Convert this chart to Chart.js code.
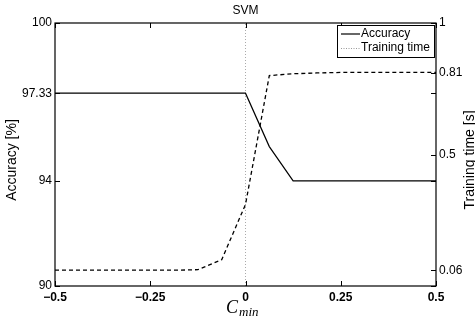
<!DOCTYPE html>
<html lang="en">
<head>
    <meta charset="UTF-8">
    <title>SVM</title>
    <script src="https://cdn.jsdelivr.net/npm/chart.js"></script>
    <style>
        html, body { margin: 0; padding: 0; background: #fff; }
        #wrap { width: 475px; height: 327px; }
    </style>
</head>
<body>
    <div id="wrap"><canvas id="svmChart" width="475" height="327"></canvas></div>
    <script>
        // values
        const cValues = [-0.5, -0.4375, -0.375, -0.3125, -0.25, -0.1875, -0.125, -0.0625, 0,
                         0.0625, 0.125, 0.1875, 0.25, 0.3125, 0.375, 0.4375, 0.5];
        const accuracy = [97.33, 97.33, 97.33, 97.33, 97.33, 97.33, 97.33, 97.33, 97.33,
                          95.3, 94, 94, 94, 94, 94, 94, 94];
        const trainingTime = [0.06, 0.06, 0.06, 0.06, 0.06, 0.06, 0.062, 0.1, 0.31,
                              0.8, 0.807, 0.81, 0.812, 0.812, 0.812, 0.812, 0.812];
        const xTicks = [-0.5, -0.25, 0, 0.25, 0.5];
        const accTicks = [90, 94, 97.33, 100];
        const timeTicks = [0.06, 0.5, 0.81, 1];

        const FONT = "'Liberation Sans', Arial, sans-serif";

        function toPoints(xs, ys) {
            return xs.map((x, i) => ({ x: x, y: ys[i] }));
        }

        function fmt(v) {
            return String(v).replace('-', '\u2212');
        }

        // MATLAB-like frame: box, inward ticks, titles, legend
        const framePlugin = {
            id: 'frame',
            afterDraw(chart) {
                const ctx = chart.ctx;
                const a = chart.chartArea;
                const sx = chart.scales.x, sy = chart.scales.y, sy2 = chart.scales.y2;
                const tl = 5;
                ctx.save();
                ctx.strokeStyle = '#000';
                ctx.lineWidth = 1.2;
                ctx.strokeRect(a.left, a.top, a.right - a.left, a.bottom - a.top);

                ctx.lineWidth = 1;
                ctx.beginPath();
                xTicks.forEach(v => {
                    const px = Math.round(sx.getPixelForValue(v)) + 0.5;
                    ctx.moveTo(px, a.bottom); ctx.lineTo(px, a.bottom - tl);
                    ctx.moveTo(px, a.top); ctx.lineTo(px, a.top + tl);
                });
                accTicks.forEach(v => {
                    const py = Math.round(sy.getPixelForValue(v)) + 0.5;
                    ctx.moveTo(a.left, py); ctx.lineTo(a.left + tl, py);
                    ctx.moveTo(a.right, py); ctx.lineTo(a.right - tl, py);
                });
                timeTicks.forEach(v => {
                    const py = Math.round(sy2.getPixelForValue(v)) + 0.5;
                    ctx.moveTo(a.right, py); ctx.lineTo(a.right - tl, py);
                });
                ctx.stroke();

                // title
                ctx.fillStyle = '#000';
                ctx.font = '12px ' + FONT;
                ctx.textAlign = 'center';
                ctx.textBaseline = 'middle';
                ctx.fillText('SVM', (a.left + a.right) / 2, 11);

                // y axis titles
                ctx.font = '14px ' + FONT;
                ctx.save();
                ctx.translate(12.5, 160);
                ctx.rotate(-Math.PI / 2);
                ctx.fillText('Accuracy [%]', 0, 0);
                ctx.restore();
                ctx.save();
                ctx.translate(470, 160);
                ctx.rotate(-Math.PI / 2);
                ctx.fillText('Training time [s]', 0, 0);
                ctx.restore();

                // x axis title C_min
                ctx.textAlign = 'left';
                ctx.textBaseline = 'alphabetic';
                ctx.font = 'italic 18px "Liberation Serif", serif';
                ctx.fillText('C', 226, 313);
                const cw = ctx.measureText('C').width;
                ctx.font = 'italic 13px "Liberation Serif", serif';
                ctx.fillText('min', 226 + cw + 1, 316);

                // legend
                const lx = 337, ly = 25, lw = 97, lh = 32;
                ctx.fillStyle = '#fff';
                ctx.fillRect(lx, ly, lw, lh);
                ctx.strokeStyle = '#000';
                ctx.lineWidth = 1;
                ctx.strokeRect(lx + 0.5, ly + 0.5, lw, lh);
                ctx.beginPath();
                ctx.lineWidth = 1.2;
                ctx.moveTo(341, 34); ctx.lineTo(360, 34);
                ctx.stroke();
                ctx.beginPath();
                ctx.strokeStyle = '#999';
                ctx.setLineDash([1, 1.5]);
                ctx.moveTo(341, 48.5); ctx.lineTo(360, 48.5);
                ctx.stroke();
                ctx.setLineDash([]);
                ctx.fillStyle = '#000';
                ctx.font = '12px ' + FONT;
                ctx.textBaseline = 'middle';
                ctx.fillText('Accuracy', 361, 34);
                ctx.fillText('Training time', 361, 48);
                ctx.restore();
            }
        };

        const ctx = document.getElementById('svmChart').getContext('2d');
        new Chart(ctx, {
            type: 'line',
            data: {
                datasets: [{
                    label: 'Accuracy',
                    data: toPoints(cValues, accuracy),
                    yAxisID: 'y',
                    borderColor: '#000',
                    borderWidth: 1.2,
                    pointRadius: 0,
                    tension: 0
                }, {
                    label: 'Training time',
                    data: toPoints(cValues, trainingTime),
                    yAxisID: 'y2',
                    borderColor: '#000',
                    borderWidth: 1.3,
                    borderDash: [4, 3],
                    pointRadius: 0,
                    tension: 0
                }, {
                    label: 'zero',
                    data: [{ x: 0, y: 90 }, { x: 0, y: 100 }],
                    yAxisID: 'y',
                    borderColor: '#aaa',
                    borderWidth: 1,
                    borderDash: [1, 2],
                    pointRadius: 0
                }]
            },
            options: {
                responsive: false,
                animation: false,
                layout: { padding: { top: 23, left: 0, right: 0, bottom: 0 } },
                plugins: {
                    legend: { display: false },
                    title: { display: false },
                    tooltip: { enabled: false }
                },
                scales: {
                    x: {
                        type: 'linear',
                        min: -0.5, max: 0.5,
                        grid: { display: false, drawTicks: false },
                        border: { display: false },
                        afterBuildTicks: s => { s.ticks = xTicks.map(v => ({ value: v })); },
                        afterFit: s => { s.height = 41; },
                        ticks: {
                            padding: 4,
                            color: '#000',
                            font: { family: FONT, size: 12, weight: 'bold' },
                            maxRotation: 0,
                            callback: v => fmt(v)
                        }
                    },
                    y: {
                        position: 'left',
                        min: 90, max: 100,
                        grid: { display: false, drawTicks: false },
                        border: { display: false },
                        afterBuildTicks: s => { s.ticks = accTicks.map(v => ({ value: v })); },
                        afterFit: s => { s.width = 55; },
                        ticks: {
                            padding: 3,
                            color: '#000',
                            font: { family: FONT, size: 12 },
                            callback: v => fmt(v)
                        }
                    },
                    y2: {
                        position: 'right',
                        min: 0, max: 1,
                        grid: { display: false, drawTicks: false },
                        border: { display: false },
                        afterBuildTicks: s => { s.ticks = timeTicks.map(v => ({ value: v })); },
                        afterFit: s => { s.width = 39; },
                        ticks: {
                            padding: 3,
                            color: '#000',
                            font: { family: FONT, size: 12 },
                            callback: v => fmt(v)
                        }
                    }
                }
            },
            plugins: [framePlugin]
        });
    </script>
</body>
</html>
